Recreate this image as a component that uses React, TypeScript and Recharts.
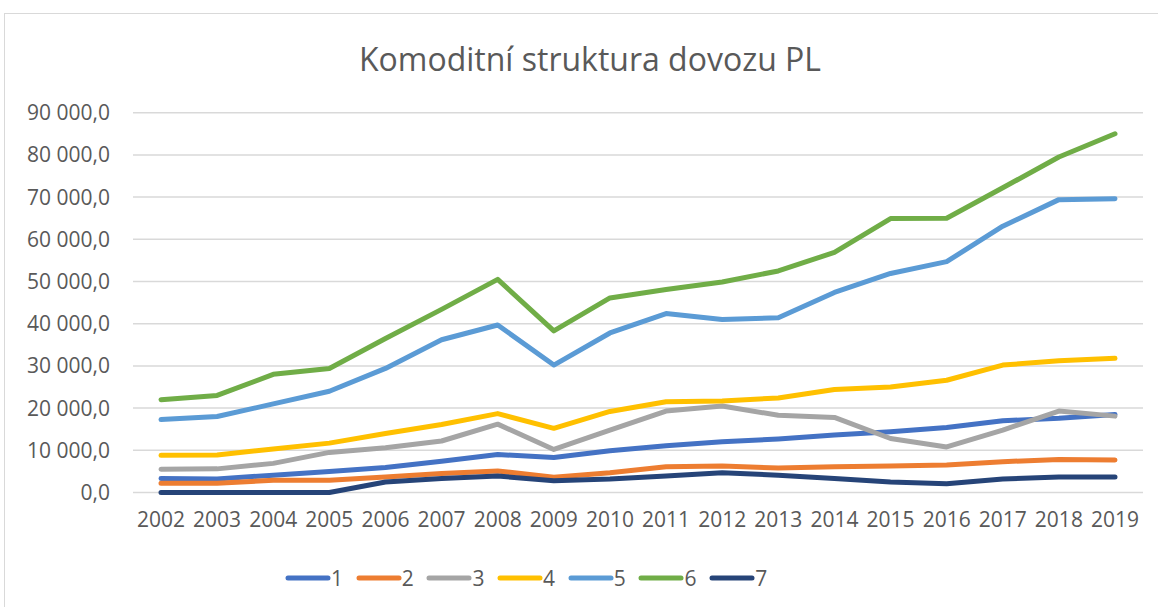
import React from 'react';
import { LineChart, Line, XAxis, YAxis, CartesianGrid, Legend } from 'recharts';

const years = [
  '2002', '2003', '2004', '2005', '2006', '2007', '2008', '2009', '2010',
  '2011', '2012', '2013', '2014', '2015', '2016', '2017', '2018', '2019',
];

const s1 = [3300, 3200, 4100, 5000, 5900, 7400, 9000, 8300, 9900, 11100, 12000, 12700, 13600, 14400, 15400, 17000, 17600, 18500];
const s2 = [2200, 2200, 2900, 2900, 3700, 4500, 5100, 3600, 4700, 6100, 6300, 5800, 6100, 6300, 6500, 7300, 7800, 7700];
const s3 = [5500, 5600, 6900, 9500, 10600, 12200, 16200, 10200, 14800, 19300, 20500, 18300, 17800, 12800, 10800, 14800, 19300, 18100];
const s4 = [8800, 8900, 10300, 11700, 14000, 16100, 18700, 15200, 19200, 21500, 21700, 22400, 24400, 25000, 26600, 30200, 31200, 31800];
const s5 = [17300, 18000, 21000, 24000, 29400, 36200, 39700, 30200, 37800, 42400, 41000, 41400, 47400, 51900, 54700, 63100, 69400, 69600];
const s6 = [22000, 23000, 28000, 29400, 36500, 43400, 50500, 38300, 46100, 48100, 49900, 52500, 56900, 64900, 65000, 72200, 79500, 85000];
const s7 = [0, 0, 0, 0, 2500, 3300, 3900, 2800, 3200, 3900, 4700, 4100, 3300, 2500, 2100, 3200, 3700, 3700];

const seriesNames = ['1', '2', '3', '4', '5', '6', '7'];
const seriesValues = [s1, s2, s3, s4, s5, s6, s7];
const seriesColors = ['#4472C4', '#ED7D31', '#A5A5A5', '#FFC000', '#5B9BD5', '#70AD47', '#264478'];

const yTicks = [0, 10000, 20000, 30000, 40000, 50000, 60000, 70000, 80000, 90000];

const data = years.map((year, i) => {
  const row: Record<string, string | number> = { year };
  seriesNames.forEach((name, k) => {
    row[name] = seriesValues[k][i];
  });
  return row;
});

const FONT = '"Open Sans", "Noto Sans", sans-serif';
const TEXT = '#595959';

const formatTick = (v: number) =>
  String(v).replace(/\B(?=(\d{3})+(?!\d))/g, ' ') + ',0';

const renderLegend = () => (
  <div style={{ display: 'flex', alignItems: 'center', height: 30, paddingLeft: 285, fontFamily: FONT, fontSize: 21, color: TEXT }}>
    {seriesNames.map((name, k) => (
      <div key={name} style={{ display: 'flex', alignItems: 'center', width: 70.7 }}>
        <svg width={46} height={10}>
          <line x1={3} y1={5} x2={43} y2={5} stroke={seriesColors[k]} strokeWidth={5} strokeLinecap="round" />
        </svg>
        <span>{name}</span>
      </div>
    ))}
  </div>
);

export default function App() {
  return (
    <div style={{ position: 'absolute', left: 0, top: 0, width: 1158, height: 607, background: '#fff', overflow: 'hidden' }}>
      <div style={{ position: 'absolute', left: 4, top: 13, width: 1170, height: 620, border: '1px solid #D9D9D9' }} />
      <div style={{ position: 'absolute', left: 0, top: 37, width: 1180, textAlign: 'center', fontFamily: FONT, fontSize: 32, color: TEXT }}>
        Komoditní struktura dovozu PL
      </div>
      <div style={{ position: 'absolute', left: 0, top: 0 }}>
        <LineChart width={1158} height={607} data={data} margin={{ top: 112.7, right: 15, left: 0, bottom: 24.5 }}>
          <CartesianGrid vertical={false} stroke="#D9D9D9" strokeWidth={1.5} />
          <XAxis
            dataKey="year"
            height={60}
            axisLine={false}
            tickLine={false}
            tickSize={0}
            tickMargin={20}
            interval={0}
            padding={{ left: 28, right: 28 }}
            tick={{ fontFamily: FONT, fontSize: 21, fill: TEXT }}
          />
          <YAxis
            width={133}
            domain={[0, 90000]}
            ticks={yTicks}
            axisLine={false}
            tickLine={false}
            tickSize={0}
            tickMargin={23}
            tickFormatter={formatTick}
            tick={{ fontFamily: FONT, fontSize: 21, fill: TEXT }}
          />
          <Legend verticalAlign="bottom" content={renderLegend} wrapperStyle={{ bottom: 14, left: 0, width: 1158 }} />
          {seriesNames.map((name, k) => (
            <Line
              key={name}
              type="linear"
              dataKey={name}
              stroke={seriesColors[k]}
              strokeWidth={5}
              strokeLinecap="round"
              strokeLinejoin="round"
              dot={false}
              activeDot={false}
              isAnimationActive={false}
            />
          ))}
        </LineChart>
      </div>
    </div>
  );
}
